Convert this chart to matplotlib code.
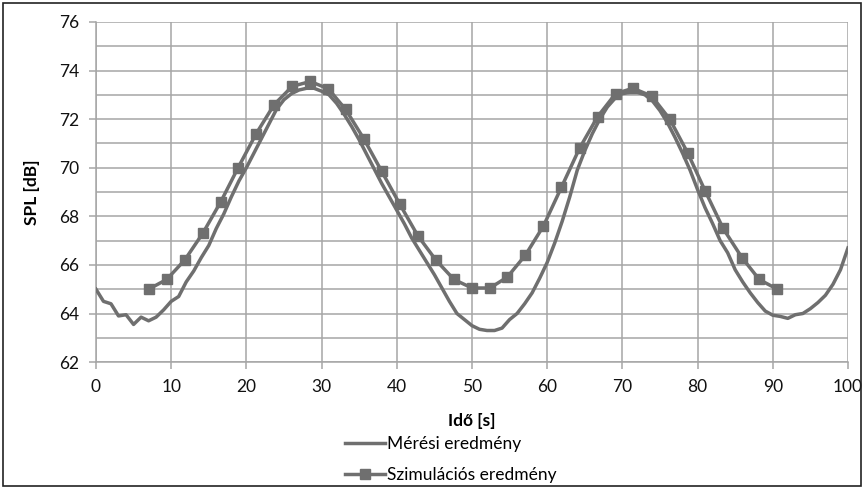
import matplotlib
matplotlib.use("Agg")
import matplotlib.pyplot as plt
from matplotlib.ticker import MultipleLocator
from matplotlib.patches import Rectangle

# --- data ---
meas_t = list(range(0, 101))
meas_spl = [
    65.0, 64.5, 64.4, 63.9, 63.95, 63.55, 63.85, 63.7, 63.85, 64.15,   # 0-9
    64.5, 64.7, 65.3, 65.75, 66.3, 66.8, 67.5, 68.1, 68.8, 69.45,       # 10-19
    70.0, 70.6, 71.2, 71.8, 72.4, 72.8, 73.05, 73.2, 73.27, 73.27,      # 20-29
    73.15, 73.0, 72.65, 72.2, 71.7, 71.15, 70.55, 69.95, 69.35, 68.8,   # 30-39
    68.25, 67.7, 67.1, 66.6, 66.1, 65.6, 65.05, 64.5, 64.0, 63.75,      # 40-49
    63.5, 63.35, 63.3, 63.3, 63.4, 63.75, 64.0, 64.4, 64.85, 65.45,     # 50-59
    66.1, 66.9, 67.8, 68.8, 69.9, 70.7, 71.4, 72.0, 72.5, 72.85,        # 60-69
    73.05, 73.1, 73.1, 73.0, 72.75, 72.35, 71.85, 71.25, 70.6, 69.9,    # 70-79
    69.1, 68.35, 67.7, 67.0, 66.5, 65.8, 65.3, 64.85, 64.45, 64.1,      # 80-89
    63.93, 63.88, 63.8, 63.95, 64.0, 64.2, 64.45, 64.75, 65.2, 65.8,    # 90-99
    66.7,                                                               # 100
]
sim_t = [7.0, 9.4, 11.8, 14.2, 16.6, 18.9, 21.3, 23.7, 26.1, 28.5, 30.9, 33.2,
         35.6, 38.0, 40.4, 42.8, 45.2, 47.6, 50.0, 52.4, 54.7, 57.1, 59.5, 61.9,
         64.3, 66.7, 69.1, 71.4, 73.9, 76.3, 78.7, 81.0, 83.4, 85.9, 88.2, 90.6]
sim_spl = [65.0, 65.4, 66.2, 67.3, 68.6, 70.0, 71.4, 72.6, 73.35, 73.55, 73.25, 72.4,
           71.2, 69.85, 68.5, 67.2, 66.2, 65.4, 65.05, 65.05, 65.5, 66.4, 67.6, 69.2,
           70.8, 72.1, 73.05, 73.27, 72.95, 72.0, 70.6, 69.05, 67.5, 66.3, 65.4, 65.0]
x_ticks = [0, 10, 20, 30, 40, 50, 60, 70, 80, 90, 100]
y_ticks = [62, 64, 66, 68, 70, 72, 74, 76]
labels = ["Mérési eredmény", "Szimulációs eredmény"]

plt.rcParams['font.family'] = ['Lato', 'DejaVu Sans']

fig = plt.figure(figsize=(8.63, 4.88), dpi=100)
ax = fig.add_axes([0.1112, 0.258, 0.8714, 0.697])

line_col = '#6f6f6f'
grid_col = '#a6a6a6'

ax.plot(meas_t, meas_spl, color=line_col, lw=2.5, label=labels[0], zorder=3)
ax.plot(sim_t, sim_spl, color=line_col, lw=2.5, marker='s', markersize=6.5,
        label=labels[1], zorder=4)

ax.set_xlim(0, 100)
ax.set_ylim(62, 76)
ax.set_xticks(x_ticks)
ax.set_yticks(y_ticks)
ax.yaxis.set_minor_locator(MultipleLocator(1))
ax.grid(True, which='both', color=grid_col, lw=1.1)
ax.set_axisbelow(True)
ax.tick_params(axis='both', which='major', length=5, color=grid_col, labelsize=12.5,
               labelcolor='#111111', width=1.1, pad=7)
ax.tick_params(axis='y', which='minor', length=0)
for s in ax.spines.values():
    s.set_visible(False)
ax.spines['left'].set_visible(True)
ax.spines['bottom'].set_visible(True)
ax.spines['left'].set_color(grid_col)
ax.spines['bottom'].set_color(grid_col)
ax.spines['left'].set_linewidth(1.1)
ax.spines['bottom'].set_linewidth(1.1)

ax.set_xlabel("Idő [s]", fontsize=12.5, fontweight='bold', labelpad=13)
ax.set_ylabel("SPL [dB]", fontsize=12.5, fontweight='bold', labelpad=14)

fig.legend(loc='center', bbox_to_anchor=(0.522, 0.059), ncol=1, frameon=False,
           fontsize=12.5, handlelength=2.3, handletextpad=0.1, labelspacing=0.85)

fig.patches.append(Rectangle((0.004, 0.004), 0.994, 0.99, transform=fig.transFigure,
                             fill=False, edgecolor='#222222', lw=1.2))

fig.savefig("out.png", dpi=100)
